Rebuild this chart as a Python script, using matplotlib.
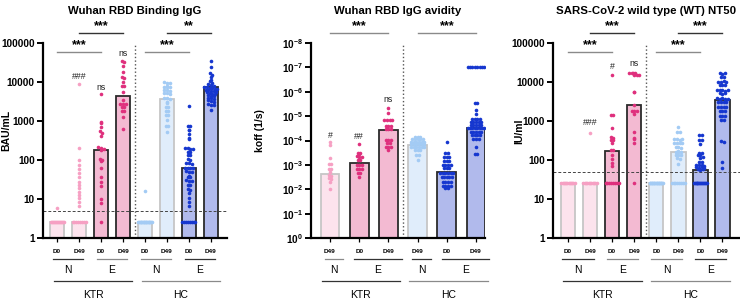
import numpy as np
import matplotlib
matplotlib.use("Agg")
import matplotlib.pyplot as plt

plt.rcParams["font.family"] = ["Liberation Sans", "DejaVu Sans"]
plt.rcParams["mathtext.fontset"] = "custom"
plt.rcParams["mathtext.rm"] = "Liberation Sans"
plt.rcParams["mathtext.bf"] = "Liberation Sans:bold"

# ---- data ----
# Wuhan RBD binding IgG (BAU/mL)
ktr_n_d0_bau = [5.8, 2.5, 2.5, 2.5, 2.5, 2.5, 2.5, 2.5, 2.5, 2.5, 2.5, 2.5, 2.5, 2.5, 2.5]
ktr_n_d49_bau = [8700, 200, 100, 74, 58, 46, 36, 28, 23, 19, 15, 12.6, 10.4, 8.5, 6.7,
                 2.5, 2.5, 2.5, 2.5, 2.5, 2.5, 2.5, 2.5]
ktr_e_d0_bau = [4900, 950, 870, 690, 560, 500, 415, 210, 200, 190, 185, 105, 100, 95,
                61, 37, 28, 22, 10, 8, 2.5]
ktr_e_d49_bau = [34000, 33000, 25000, 18400, 13500, 13000, 10200, 8000, 7700, 5600, 3500,
                 2800, 2750, 2700, 2350, 2300, 1850, 1800, 1300, 610]
hc_n_d0_bau = [16, 2.5, 2.5, 2.5, 2.5, 2.5, 2.5, 2.5, 2.5, 2.5, 2.5, 2.5, 2.5, 2.5, 2.5,
               2.5, 2.5, 2.5, 2.5, 2.5]
hc_n_d49_bau = [9800, 9600, 9400, 7800, 7600, 7500, 7400, 6300, 6200, 6000, 5200, 5100, 5000,
                3900, 3800, 3700, 3000, 2900, 2350, 2300, 1850, 1800, 1450, 1400, 1060, 760,
                730, 530]
hc_e_d0_bau = [2420, 760, 730, 600, 580, 465, 370, 350, 205, 200, 195, 190, 165, 163, 160,
               136, 132, 106, 102, 84, 82, 80, 64, 63, 62, 61, 51, 50, 49, 38, 37, 36, 30,
               29.5, 29, 23.5, 23, 22.5, 18.5, 17.5, 14, 10.4, 8.5, 6.7,
               2.5, 2.5, 2.5, 2.5, 2.5, 2.5, 2.5, 2.5]
hc_e_d49_bau = [34600, 24000, 16600, 15500, 13800, 11200, 10500, 9500, 8800, 8300, 7800, 7600,
                7400, 7200, 7000, 6800, 6600, 6400, 6200, 6000, 5800, 5600, 5400, 5200, 5000,
                4800, 4670, 4500, 4300, 4000, 3800, 3600, 3400, 3200, 3000, 2800, 2600, 2500,
                1900]
bar_bau = [2.5, 2.5, 180, 4500, 2.5, 3600, 63, 7600]

# Wuhan RBD IgG avidity (koff, 1/s)
ktr_n_d49_koff = [1.1e-4, 1.6e-4, 5.4e-4, 9.0e-4, 9.4e-4, 1.5e-3, 1.5e-3, 2.0e-3, 2.7e-3,
                  2.9e-3, 3.5e-3, 3.7e-3, 5.2e-3, 9.8e-3]
ktr_e_d0_koff = [1.4e-4, 3.3e-4, 3.4e-4, 3.5e-4, 4.5e-4, 4.6e-4, 4.7e-4, 6.2e-4, 6.4e-4,
                 1.0e-3, 1.0e-3, 1.0e-3, 1.5e-3, 1.5e-3, 1.5e-3, 2.2e-3, 2.2e-3, 3.1e-3]
ktr_e_d49_koff = [4.8e-6, 7.6e-6, 1.4e-5, 1.4e-5, 1.4e-5, 1.4e-5, 2.5e-5, 2.5e-5, 2.5e-5,
                  3.5e-5, 3.5e-5, 3.5e-5, 9.5e-5, 9.5e-5, 9.5e-5, 1.3e-4, 1.3e-4, 1.9e-4,
                  1.9e-4, 1.9e-4, 2.5e-4]
hc_n_d49_koff = [7e-5, 7e-5, 7e-5, 8.9e-5, 8.9e-5, 8.9e-5, 8.9e-5, 8.9e-5, 1.1e-4, 1.1e-4,
                 1.1e-4, 1.1e-4, 1.1e-4, 1.1e-4, 1.4e-4, 1.4e-4, 1.4e-4, 1.4e-4, 1.4e-4,
                 1.4e-4, 1.8e-4, 1.8e-4, 1.8e-4, 1.8e-4, 1.8e-4, 1.8e-4, 2.5e-4, 2.5e-4,
                 2.5e-4, 3.9e-4, 3.9e-4, 6.3e-4]
hc_e_d0_koff = [1.1e-4, 3.2e-4, 3.2e-4, 4.6e-4, 4.6e-4, 4.6e-4, 6.7e-4, 6.7e-4, 6.7e-4,
                1.0e-3, 1.0e-3, 1.0e-3, 1.0e-3, 1.4e-3, 1.4e-3, 1.4e-3, 2.2e-3, 2.2e-3,
                2.2e-3, 2.2e-3, 2.2e-3, 2.2e-3, 3.1e-3, 3.1e-3, 3.1e-3, 3.1e-3, 3.1e-3,
                4.9e-3, 4.9e-3, 4.9e-3, 4.9e-3, 7.1e-3, 7.1e-3, 7.1e-3, 7.1e-3, 9.1e-3, 9.1e-3]
hc_e_d49_koff = [1e-7, 1e-7, 1e-7, 1e-7, 1e-7, 1e-7, 1e-7, 1e-7, 3e-6, 3e-6, 5.6e-6, 8.1e-6,
                 1.3e-5, 1.3e-5, 1.3e-5, 1.3e-5, 1.7e-5, 1.7e-5, 1.7e-5, 1.7e-5, 1.7e-5,
                 2.3e-5, 2.3e-5, 2.3e-5, 2.3e-5, 2.3e-5, 3.2e-5, 3.2e-5, 3.2e-5, 3.2e-5,
                 3.2e-5, 3.2e-5, 3.2e-5, 3.2e-5, 4.4e-5, 4.4e-5, 4.4e-5, 4.4e-5, 4.4e-5,
                 5.9e-5, 5.9e-5, 5.9e-5, 5.9e-5, 8.7e-5, 8.7e-5, 8.7e-5, 1.8e-4, 3.7e-4, 3.7e-4]
bar_koff = [2.4e-3, 8e-4, 3.8e-5, 1.5e-4, 1.9e-3, 3.2e-5]

# SARS-CoV-2 WT NT50 (IU/ml)
ktr_n_d0_nt = [25, 25, 25, 25, 25, 25, 25, 25, 25, 25, 25, 25]
ktr_n_d49_nt = [500, 25, 25, 25, 25, 25, 25, 25, 25, 25, 25, 25]
ktr_e_d0_nt = [15000, 1420, 1400, 650, 380, 370, 325, 320, 270, 180, 178, 134, 106, 82, 70,
               25, 25, 25, 25, 25, 25, 25, 25]
ktr_e_d49_nt = [17300, 17200, 17100, 17000, 15100, 15000, 14900, 5600, 5500, 2570, 1830,
                1820, 1800, 1510, 530, 360, 355, 280, 25]
hc_n_d0_nt = [25, 25, 25, 25, 25, 25, 25, 25, 25, 25, 25, 25, 25, 25, 25, 25, 25, 25, 25, 25]
hc_n_d49_nt = [710, 530, 520, 345, 340, 335, 350, 277, 275, 280, 272, 210, 212, 208, 164,
               166, 162, 160, 134, 132, 136, 110, 108, 79, 25, 25, 25, 25, 25, 25, 25, 25]
hc_e_d0_nt = [440, 435, 325, 320, 258, 154, 152, 134, 132, 117, 115, 91, 90, 74, 73, 75, 72,
              65, 64, 66, 63, 58, 57, 59, 25, 25, 25, 25, 25, 25, 25, 25, 25, 25, 25, 25,
              25, 25, 25]
hc_e_d49_nt = [16600, 16400, 16800, 13700, 13500, 10200, 10000, 10400, 9900, 8300, 8200, 8400,
               6200, 6100, 6300, 6000, 6400, 5100, 5000, 5200, 3800, 3700, 3900, 3600, 3750,
               3100, 3000, 3150, 3050, 2330, 2300, 2350, 2280, 1830, 1800, 1850, 1350, 1330,
               1370, 1070, 1060, 300, 295, 87, 62]
bar_nt = [25, 25, 170, 2500, 25, 165, 55, 3500]

# ---- styles ----
KTR_N = dict(fill="#fce3ed", edge="#c6c6c6", dot="#f6a0c3")
KTR_E = dict(fill="#f3bad2", edge="#2b2b2b", dot="#df307d")
HC_N = dict(fill="#e0edfb", edge="#c6c6c6", dot="#a3cbf4")
HC_E = dict(fill="#b1baec", edge="#2b2b2b", dot="#1637cf")
DARK, GREY = "#333333", "#8a8a8a"


def swarm_x(vals, center, bin_size, step, half):
    logs = np.log10(np.asarray(vals, dtype=float))
    bins = np.round(logs / bin_size).astype(int)
    xs = np.empty(len(vals))
    for b in np.unique(bins):
        idx = np.where(bins == b)[0]
        n = len(idx)
        span = min((n - 1) * step, 2 * half)
        xs[idx] = center + (np.linspace(-span / 2, span / 2, n) if n > 1 else 0)
    return xs


def draw_panel(ax, groups, bars, styles, bin_size, step, width):
    for i, (vals, h, st) in enumerate(zip(groups, bars, styles)):
        # bars grow from the axis floor (value 1) to the group's value
        ax.bar(i, h - 1, width=width, bottom=1, color=st["fill"], edgecolor=st["edge"],
               linewidth=1.3, zorder=1)
        px = swarm_x(vals, i, bin_size, step, width * 0.45)
        ax.plot(px, vals, "o", ms=2.6, mew=0, color=st["dot"], zorder=3)
    for s in ("top", "right"):
        ax.spines[s].set_visible(False)
    for s in ("left", "bottom"):
        ax.spines[s].set_linewidth(1.6)
    ax.tick_params(axis="y", which="major", length=4, width=1.4, labelsize=7.2, pad=2)
    ax.tick_params(axis="y", which="minor", length=0)
    ax.tick_params(axis="x", length=3, width=0.9, labelsize=4.6, pad=5)


def sig(ax, x0, x1, y, text, color=GREY):
    tr = ax.get_xaxis_transform()
    ax.plot([x0, x1], [y, y], color=color, lw=1.0, transform=tr, clip_on=False)
    ax.text((x0 + x1) / 2, y + 0.005, text, transform=tr, ha="center", va="bottom",
            fontsize=9, fontweight="bold")


def note(ax, x, y, text):
    ax.text(x, y, text, transform=ax.get_xaxis_transform(), ha="center", va="center",
            fontsize=6.3, color="#222222")


def groups_below(ax, small, big, pad_s, pad_b):
    tr = ax.get_xaxis_transform()
    for lab, a, b, col in small:
        x0, x1 = a + pad_s[0], b + pad_s[1]
        ax.plot([x0, x1], [-0.108, -0.108], color=col, lw=0.9, transform=tr, clip_on=False)
        ax.text((x0 + x1) / 2, -0.165, lab, transform=tr, ha="center", va="center", fontsize=7.5)
    for lab, a, b, col in big:
        x0, x1 = a + pad_b[0], b + pad_b[1]
        ax.plot([x0, x1], [-0.222, -0.222], color=col, lw=0.9, transform=tr, clip_on=False)
        ax.text((x0 + x1) / 2, -0.29, lab, transform=tr, ha="center", va="center", fontsize=7.5)


fig = plt.figure(figsize=(7.4, 3.01), dpi=100)
W, H = 740, 301
bot, hgt = (H - 238) / H, 195 / H
ax1 = fig.add_axes([43 / W, bot, 184 / W, hgt])
ax2 = fig.add_axes([311 / W, bot, 174 / W, hgt])
ax3 = fig.add_axes([553 / W, bot, 187 / W, hgt])

d8 = ["D0", "D49", "D0", "D49", "D0", "D49", "D0", "D49"]
st8 = [KTR_N, KTR_N, KTR_E, KTR_E, HC_N, HC_N, HC_E, HC_E]
TITLE_PAD = 21
TITLE_SIZE = 8.2

# panel 1
g1 = [ktr_n_d0_bau, ktr_n_d49_bau, ktr_e_d0_bau, ktr_e_d49_bau,
      hc_n_d0_bau, hc_n_d49_bau, hc_e_d0_bau, hc_e_d49_bau]
ax1.set_yscale("log")
draw_panel(ax1, g1, bar_bau, st8, 0.07, 0.12, 0.66)
ax1.set_ylim(1, 1e5)
ax1.set_xlim(-0.64, 7.73)
ax1.set_yticks([1, 10, 100, 1000, 10000, 100000])
ax1.set_yticklabels(["1", "10", "100", "1000", "10000", "100000"], fontweight="bold")
ax1.set_xticks(range(8))
ax1.set_xticklabels(d8)
ax1.axhline(5, color="#444444", ls=(0, (3, 2)), lw=0.7, zorder=2)
ax1.axvline(3.55, color="#555555", ls=":", lw=1.0, zorder=2)
ax1.set_ylabel("BAU/mL", fontsize=7.5, fontweight="bold")
ax1.yaxis.set_label_coords(-0.175, 0.55)
ax1.set_title("Wuhan RBD Binding IgG", fontsize=TITLE_SIZE, fontweight="bold", pad=TITLE_PAD)
sig(ax1, 1, 3, 1.051, "***", DARK)
sig(ax1, 0, 2, 0.954, "***")
sig(ax1, 5, 7, 1.051, "**", DARK)
sig(ax1, 4, 6, 0.954, "***")
note(ax1, 1, 0.83, "###")
note(ax1, 2, 0.774, "ns")
note(ax1, 3, 0.944, "ns")
groups_below(ax1, [("N", 0, 1, DARK), ("E", 2, 3, GREY), ("N", 4, 5, GREY), ("E", 6, 7, DARK)],
             [("KTR", 0, 3, DARK), ("HC", 4, 7, GREY)], (-0.2, 0.2), (-0.15, 0.42))

# panel 2 (inverted log axis: small koff at the top)
g2 = [ktr_n_d49_koff, ktr_e_d0_koff, ktr_e_d49_koff, hc_n_d49_koff, hc_e_d0_koff, hc_e_d49_koff]
st6 = [KTR_N, KTR_E, KTR_E, HC_N, HC_E, HC_E]
ax2.set_yscale("log")
draw_panel(ax2, g2, bar_koff, st6, 0.11, 0.09, 0.64)
ax2.set_ylim(1, 1e-8)
ax2.set_xlim(-0.65, 5.31)
ax2.set_yticks([10.0 ** -k for k in range(0, 9)])
ax2.set_yticklabels([r"$\mathbf{10^{%d}}$" % (-k) for k in range(0, 9)])
ax2.set_xticks(range(6))
ax2.set_xticklabels(["D49", "D0", "D49", "D49", "D0", "D49"])
ax2.axvline(2.5, color="#555555", ls=":", lw=1.0, zorder=2)
ax2.set_ylabel("koff (1/s)", fontsize=7.5, fontweight="bold")
ax2.yaxis.set_label_coords(-0.265, 0.55)
ax2.set_title("Wuhan RBD IgG avidity", fontsize=TITLE_SIZE, fontweight="bold", pad=TITLE_PAD)
sig(ax2, 0, 2, 1.051, "***")
sig(ax2, 3, 5, 1.051, "***")
note(ax2, 0, 0.528, "#")
note(ax2, 1, 0.52, "##")
note(ax2, 2, 0.708, "ns")
groups_below(ax2, [("N", 0, 0, GREY), ("E", 1, 2, DARK), ("N", 3, 3, DARK), ("E", 4, 5, DARK)],
             [("KTR", 0, 2, DARK), ("HC", 3, 5, GREY)], (-0.18, 0.45), (-0.28, 0.4))

# panel 3
g3 = [ktr_n_d0_nt, ktr_n_d49_nt, ktr_e_d0_nt, ktr_e_d49_nt,
      hc_n_d0_nt, hc_n_d49_nt, hc_e_d0_nt, hc_e_d49_nt]
ax3.set_yscale("log")
draw_panel(ax3, g3, bar_nt, st8, 0.07, 0.12, 0.66)
ax3.set_ylim(1, 1e5)
ax3.set_xlim(-0.68, 7.8)
ax3.set_yticks([1, 10, 100, 1000, 10000, 100000])
ax3.set_yticklabels(["1", "10", "100", "1000", "10000", "100000"], fontweight="bold")
ax3.set_xticks(range(8))
ax3.set_xticklabels(d8)
ax3.axhline(50, color="#444444", ls=(0, (3, 2)), lw=0.7, zorder=2)
ax3.axvline(3.55, color="#555555", ls=":", lw=1.0, zorder=2)
ax3.set_ylabel("IU/ml", fontsize=7.5, fontweight="bold")
ax3.yaxis.set_label_coords(-0.155, 0.55)
ax3.set_title("SARS-CoV-2 wild type (WT) NT50", fontsize=TITLE_SIZE, fontweight="bold", pad=TITLE_PAD)
sig(ax3, 1, 3, 1.051, "***", DARK)
sig(ax3, 0, 2, 0.954, "***")
sig(ax3, 5, 7, 1.051, "***", DARK)
sig(ax3, 4, 6, 0.954, "***")
note(ax3, 1, 0.59, "###")
note(ax3, 2, 0.877, "#")
note(ax3, 3, 0.897, "ns")
groups_below(ax3, [("N", 0, 1, DARK), ("E", 2, 3, GREY), ("N", 4, 5, GREY), ("E", 6, 7, DARK)],
             [("KTR", 0, 3, DARK), ("HC", 4, 7, GREY)], (-0.25, 0.18), (-0.23, 0.35))

for ax in (ax1, ax2, ax3):
    for lab in ax.get_xticklabels():
        lab.set_fontweight("bold")

fig.savefig("out.png", dpi=100)
